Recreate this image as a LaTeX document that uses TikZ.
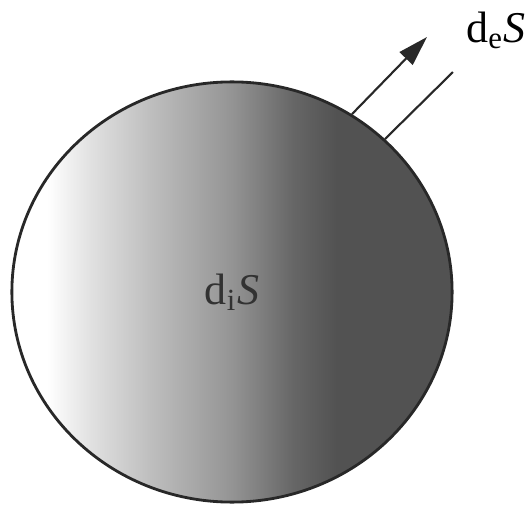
\documentclass[tikz,border=0pt]{standalone}
\usepackage{fontspec}
\setmainfont{Liberation Serif}
\usetikzlibrary{arrows.meta,shapes.geometric}
\definecolor{ballrim}{RGB}{40,40,40}
\definecolor{labelgray}{RGB}{50,50,50}
\pgfdeclarehorizontalshading{ballshade}{100bp}{color(0bp)=(white); color(29bp)=(white); color(34bp)=(black!12); color(40.5bp)=(black!25); color(50bp)=(black!42); color(57bp)=(black!60); color(62bp)=(black!68); color(100bp)=(black!68)}

\begin{document}
\begin{tikzpicture}[x=0.01cm, y=0.01cm]
        \useasboundingbox (0,0) rectangle (532,505);

        % Ball
        \node[ellipse, draw=ballrim, line width=0.8pt, shade, shading=ballshade, minimum width=4.4cm, minimum height=4.2cm, inner sep=0pt, text=labelgray, font=\fontsize{12.5}{12.5}\selectfont] (ball) at (232,213) {d\textsubscript{i}\textit{S}};

        % Outflow
        \coordinate (tip) at (427,468);
        \coordinate (rayend) at (453,433);
        \draw[-{Triangle[length=0.3cm, width=0.18cm]}, line width=0.6pt, ballrim] (ball.56) -- (tip);
        \draw[line width=0.6pt, ballrim] (ball.45) -- (rayend);

        % Label
        \node[anchor=base, font=\fontsize{12.5}{12.5}\selectfont] (deS) at (496,463) {d\textsubscript{e}\textit{S}};
\end{tikzpicture}
\end{document}
